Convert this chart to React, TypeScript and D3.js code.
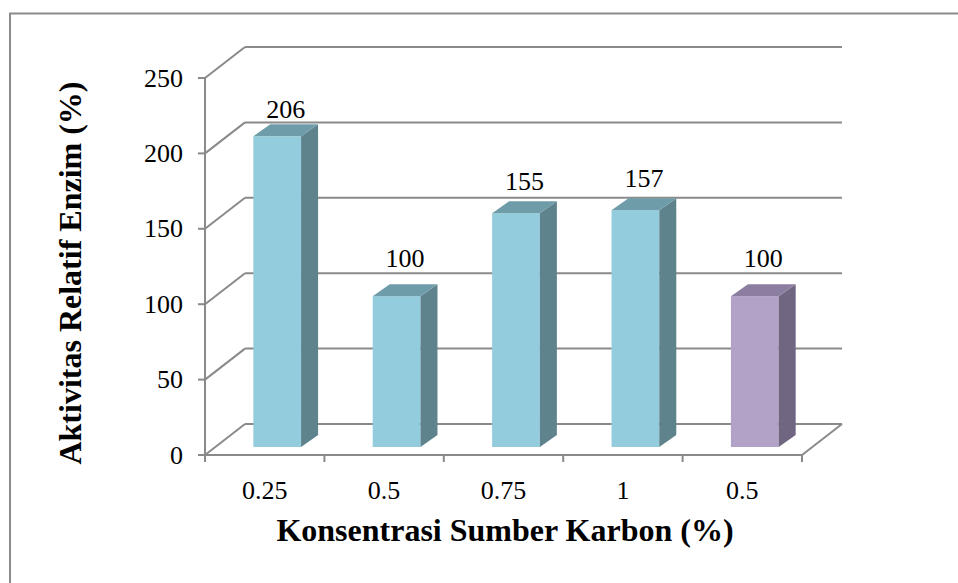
import React from "react";
import * as d3 from "d3";

// Relative enzyme activity per carbon-source concentration
const categories = ["0.25", "0.5", "0.75", "1", "0.5"];
const values = [206, 100, 155, 157, 100];
const seriesGroup = ["main", "main", "main", "main", "control"];
const yTicks = [0, 50, 100, 150, 200, 250];

const W = 958;
const H = 583;
const FONT = "'Liberation Serif', 'Times New Roman', serif";

// Depth offsets of the 3D walls and of the bars
const WALL_DX = 40;
const WALL_DY = -31;
const BAR_FRONT_DX = 12.5;
const BAR_FRONT_DY = -8;
const BAR_DEPTH_DX = 17;
const BAR_DEPTH_DY = -12;

const palette: Record<string, { front: string; side: string; top: string }> = {
  main: { front: "#93CDDD", side: "#5E838C", top: "#6E9CA8" },
  control: { front: "#B3A2C7", side: "#716681", top: "#8B7EA0" },
};

export default function App() {
  const x0 = 205;
  const x1 = 802;
  const x = d3.scaleBand<number>().domain(d3.range(categories.length)).range([x0, x1]).paddingInner(0).paddingOuter(0);
  const y = d3.scaleLinear().domain([0, 250]).range([455, 78]);
  const barW = x.bandwidth() / 2.5;

  // label baseline follows the bar height on a slightly flatter scale
  const labelY = d3.scaleLinear().domain([100, 206]).range([267, 118]);

  const grid = "#8a8a8a";

  return (
    <svg width={W} height={H} style={{ position: "absolute", left: 0, top: 0, background: "#fff" }}>
      <rect x={10} y={13.5} width={W + 20} height={H + 20} fill="#fff" stroke="#8c8c8c" strokeWidth={2} />

      {/* back wall gridlines and side-wall diagonals */}
      {yTicks.map((t) => (
        <g key={"g" + t}>
          <line x1={x0 + WALL_DX} x2={x1 + WALL_DX} y1={y(t) + WALL_DY} y2={y(t) + WALL_DY} stroke={grid} strokeWidth={2} />
          <line x1={x0} y1={y(t)} x2={x0 + WALL_DX} y2={y(t) + WALL_DY} stroke={grid} strokeWidth={2} />
          <line x1={x0 - 7} x2={x0} y1={y(t)} y2={y(t)} stroke={grid} strokeWidth={2} />
          <text x={183} y={y(t)} textAnchor="end" dominantBaseline="central" fontFamily={FONT} fontSize={26} fill="#000">
            {t}
          </text>
        </g>
      ))}

      {/* floor */}
      <line x1={x0} x2={x1} y1={y(0)} y2={y(0)} stroke={grid} strokeWidth={2} />
      <line x1={x1} y1={y(0)} x2={x1 + WALL_DX} y2={y(0) + WALL_DY} stroke={grid} strokeWidth={2} />
      <line x1={x0} x2={x0} y1={y(250)} y2={y(0) + 7} stroke={grid} strokeWidth={2} />
      {d3.range(categories.length + 1).map((i) => {
        const cx = x0 + i * x.step();
        return <line key={"t" + i} x1={cx} x2={cx} y1={y(0)} y2={y(0) + 7} stroke={grid} strokeWidth={2} />;
      })}

      {/* bars */}
      {values.map((v, i) => {
        const c = palette[seriesGroup[i]];
        const left = (x(i) as number) + x.bandwidth() / 2 - barW / 2 + BAR_FRONT_DX;
        const right = left + barW;
        const bottom = y(0) + BAR_FRONT_DY;
        const top = y(v) + BAR_FRONT_DY;
        const dx = BAR_DEPTH_DX;
        const dy = BAR_DEPTH_DY;
        return (
          <g key={"b" + i}>
            <rect x={left} y={top} width={barW} height={bottom - top} fill={c.front} />
            <path d={`M${right},${top}L${right + dx},${top + dy}L${right + dx},${bottom + dy}L${right},${bottom}Z`} fill={c.side} />
            <path d={`M${left},${top}L${left + dx},${top + dy}L${right + dx},${top + dy}L${right},${top}Z`} fill={c.top} />
            <text x={left + barW / 2 + dx / 2} y={labelY(v)} textAnchor="middle" fontFamily={FONT} fontSize={26} fill="#000">
              {v}
            </text>
          </g>
        );
      })}

      {/* category labels */}
      {categories.map((c, i) => (
        <text key={"c" + i} x={(x(i) as number) + x.bandwidth() / 2} y={490} textAnchor="middle" dominantBaseline="central" fontFamily={FONT} fontSize={26} fill="#000">
          {c}
        </text>
      ))}

      {/* axis titles */}
      <text x={505} y={530} textAnchor="middle" dominantBaseline="central" fontFamily={FONT} fontSize={32} fontWeight="bold" fill="#000">
        Konsentrasi Sumber Karbon (%)
      </text>
      <text
        transform={`translate(70, 273) rotate(-90)`}
        textAnchor="middle"
        dominantBaseline="central"
        fontFamily={FONT}
        fontSize={32}
        fontWeight="bold"
        fill="#000"
      >
        Aktivitas Relatif Enzim (%)
      </text>
    </svg>
  );
}
